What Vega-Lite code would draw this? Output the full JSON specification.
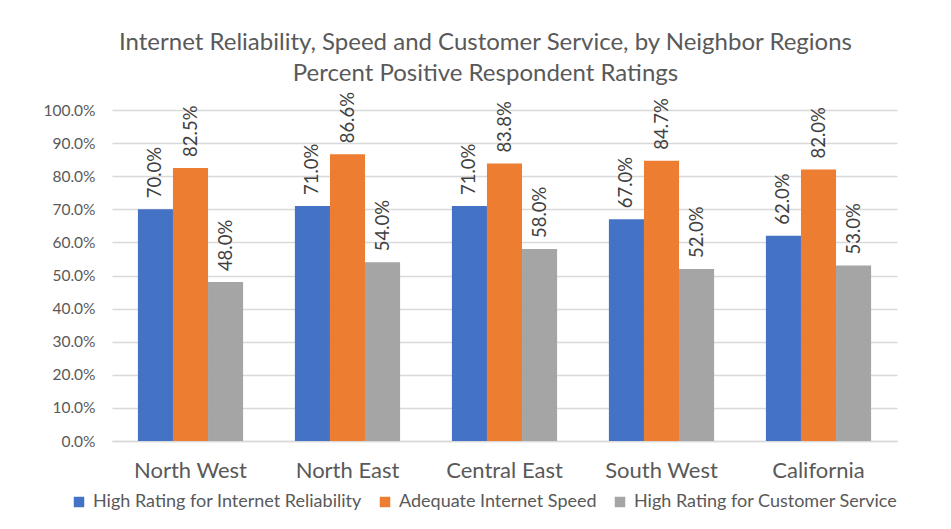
{
  "$schema": "https://vega.github.io/schema/vega-lite/v6.json",
  "width": 785,
  "height": 331,
  "autosize": {"type": "none"},
  "padding": {"left": 112, "top": 110, "right": 54, "bottom": 88},
  "background": "white",
  "title": {
    "text": ["Internet Reliability, Speed and Customer Service, by Neighbor Regions", "Percent Positive Respondent Ratings"],
    "frame": "group",
    "anchor": "middle",
    "dx": -19,
    "offset": 6,
    "fontSize": 24,
    "lineHeight": 31,
    "font": "Lato",
    "fontWeight": "normal",
    "color": "#595959"
  },
  "data": {
    "values": [
      {"region": "North West", "series": "High Rating for Internet Reliability", "value": 0.70},
      {"region": "North West", "series": "Adequate Internet Speed", "value": 0.825},
      {"region": "North West", "series": "High Rating for Customer Service", "value": 0.48},
      {"region": "North East", "series": "High Rating for Internet Reliability", "value": 0.71},
      {"region": "North East", "series": "Adequate Internet Speed", "value": 0.866},
      {"region": "North East", "series": "High Rating for Customer Service", "value": 0.54},
      {"region": "Central East", "series": "High Rating for Internet Reliability", "value": 0.71},
      {"region": "Central East", "series": "Adequate Internet Speed", "value": 0.838},
      {"region": "Central East", "series": "High Rating for Customer Service", "value": 0.58},
      {"region": "South West", "series": "High Rating for Internet Reliability", "value": 0.67},
      {"region": "South West", "series": "Adequate Internet Speed", "value": 0.847},
      {"region": "South West", "series": "High Rating for Customer Service", "value": 0.52},
      {"region": "California", "series": "High Rating for Internet Reliability", "value": 0.62},
      {"region": "California", "series": "Adequate Internet Speed", "value": 0.82},
      {"region": "California", "series": "High Rating for Customer Service", "value": 0.53}
    ]
  },
  "encoding": {
    "x": {
      "field": "region", "type": "nominal",
      "sort": ["North West", "North East", "Central East", "South West", "California"],
      "scale": {"paddingInner": 0.33, "paddingOuter": 0.165},
      "axis": {
        "title": null, "labelAngle": 0, "labelFontSize": 22, "labelColor": "#595959",
        "labelFont": "Lato",
        "labelPadding": 19, "ticks": false, "domainColor": "#d9d9d9", "domainWidth": 1.5, "grid": false
      }
    },
    "xOffset": {
      "field": "series", "type": "nominal",
      "sort": ["High Rating for Internet Reliability", "Adequate Internet Speed", "High Rating for Customer Service"],
      "scale": {"paddingInner": 0, "paddingOuter": 0}
    },
    "y": {
      "field": "value", "type": "quantitative",
      "scale": {"domain": [0, 1], "nice": false},
      "axis": {
        "title": null, "format": ".1%", "values": [0, 0.1, 0.2, 0.3, 0.4, 0.5, 0.6, 0.7, 0.8, 0.9, 1.0],
        "labelOverlap": false,
        "labelFontSize": 15.5, "labelColor": "#595959",
        "labelFont": "Lato",
        "labelPadding": 17, "ticks": false, "domain": false, "gridColor": "#d9d9d9", "gridWidth": 1.5
      }
    }
  },
  "layer": [
    {
      "mark": {"type": "bar"},
      "encoding": {
        "color": {
          "field": "series", "type": "nominal",
          "sort": ["High Rating for Internet Reliability", "Adequate Internet Speed", "High Rating for Customer Service"],
          "scale": {
            "domain": ["High Rating for Internet Reliability", "Adequate Internet Speed", "High Rating for Customer Service"],
            "range": ["#4472C4", "#ED7D31", "#A5A5A5"]
          },
          "legend": {
            "title": null, "orient": "none", "direction": "horizontal",
            "legendX": -42, "legendY": 383,
            "symbolType": "square", "symbolSize": 110, "symbolStrokeWidth": 0,
            "labelFontSize": 18, "labelColor": "#595959",
            "labelFont": "Lato",
            "labelOffset": 5, "columnPadding": 14, "labelLimit": 400
          }
        }
      }
    },
    {
      "mark": {
        "type": "text", "angle": -90, "align": "left", "baseline": "middle", "dx": 11,
        "fontSize": 18.5, "color": "#404040",
        "font": "Lato"
      },
      "encoding": {
        "text": {"field": "value", "type": "quantitative", "format": ".1%"}
      }
    }
  ],
  "config": {"view": {"stroke": null}}
}
